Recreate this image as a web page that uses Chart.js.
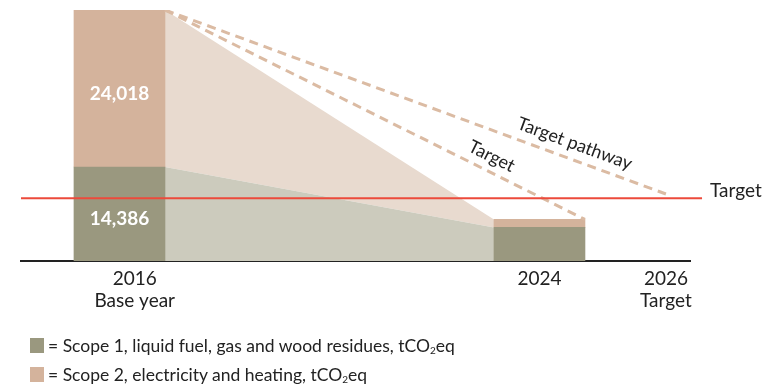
<!DOCTYPE html>
<html>
<head>
<meta charset="utf-8">
<script src="https://cdn.jsdelivr.net/npm/chart.js@4/dist/chart.umd.min.js"></script>
<style>
  html, body { margin: 0; padding: 0; background: #fff; }
  #wrap { position: relative; width: 769px; height: 387px; overflow: hidden; }
  #chart { position: absolute; left: 0; top: 0; }
  .legend {
    position: absolute; left: 30px; height: 20px;
    font: 17.5px Lato, sans-serif; color: #222; white-space: nowrap;
    display: flex; align-items: center;
  }
  .legend .sw { display: inline-block; width: 14px; height: 15px; margin-right: 4px; }
  .legend sub { font-size: 10px; position: relative; top: 5px; vertical-align: baseline; line-height: 0; }
</style>
</head>
<body>
<div id="wrap">
  <canvas id="chart" width="769" height="387"></canvas>
  <div class="legend" style="top:335px"><span class="sw" style="background:#9a987f"></span>= Scope 1, liquid fuel, gas and wood residues, tCO<sub>2</sub>eq</div>
  <div class="legend" style="top:364px"><span class="sw" style="background:#d4b39c"></span>= Scope 2, electricity and heating, tCO<sub>2</sub>eq</div>
</div>
<script>
// Emissions, tCO2eq
const years = ['2016', '2024', '2026'];
const yearNotes = ['Base year', '', 'Target'];
const scope1 = [14386, 5140];
const scope2 = [24018, 1220];
const targetLevel = 9600;
const pathwayEnd = 10250;

// Horizontal layout: the axis runs 0–100, bars and year labels sit at these spots
const barPos = [14.72, 77.5];
const tickPos = [17.0, 77.5, 96.4];
const PAD = { left: 21, right: 79, top: 10 };
const AXIS_PX = 769 - PAD.left - PAD.right;
const BAR_PX = 91;
const HALF_BAR = (BAR_PX / 2) * 100 / AXIS_PX;

const OLIVE = '#9a987f';
const TAN = '#d4b39c';
const OLIVE_LIGHT = '#cccbbd';
const TAN_LIGHT = '#e8dacf';
const DASH = '#dbbba3';
const RED = '#ec4a3b';
const INK = '#222222';
const FONT = 'Lato, sans-serif';

const totals = scope1.map((v, i) => v + scope2[i]);
const edgeR0 = barPos[0] + HALF_BAR;
const edgeL1 = barPos[1] - HALF_BAR;
const edgeR1 = barPos[1] + HALF_BAR;

const lineBase = { type: 'line', pointRadius: 0, pointHoverRadius: 0, tension: 0 };

const datasets = [
  { type: 'bar', label: 'Scope 1', stack: 'bars', order: 2, barThickness: BAR_PX,
    backgroundColor: OLIVE, data: barPos.map((x, i) => ({ x, y: scope1[i] })) },
  { type: 'bar', label: 'Scope 2', stack: 'bars', order: 2, barThickness: BAR_PX,
    backgroundColor: TAN, data: barPos.map((x, i) => ({ x, y: scope2[i] })) },
  // reduction wedge, scope 1 part
  { ...lineBase, stack: 'a1', order: 3, fill: 'origin', borderWidth: 0, backgroundColor: OLIVE_LIGHT,
    data: [{ x: edgeR0, y: scope1[0] }, { x: edgeL1, y: scope1[1] }] },
  // reduction wedge, scope 2 part (filled down to the scope 1 wedge)
  { ...lineBase, stack: 'a2', order: 3, fill: 2, borderWidth: 0, backgroundColor: TAN_LIGHT,
    data: [{ x: edgeR0, y: totals[0] }, { x: edgeL1, y: totals[1] }] },
  // target level
  { ...lineBase, stack: 'a3', order: 0, fill: false, clip: false, borderColor: RED, borderWidth: 2,
    data: [{ x: 0, y: targetLevel }, { x: 101.8, y: targetLevel }] },
  // dashed: base year to 2024
  { ...lineBase, stack: 'a4', order: 0, fill: false, borderColor: DASH, borderWidth: 3, borderDash: [9, 6],
    data: [{ x: edgeR0, y: totals[0] }, { x: edgeR1, y: totals[1] }] },
  // dashed: base year to 2026 target pathway
  { ...lineBase, stack: 'a5', order: 0, fill: false, borderColor: DASH, borderWidth: 3, borderDash: [9, 6],
    data: [{ x: edgeR0, y: totals[0] }, { x: tickPos[2], y: pathwayEnd }] }
];

const fmt = v => v.toLocaleString('en-US');

function textAlong(ctx, meta, text, t, offset) {
  const p0 = meta.data[0], p1 = meta.data[1];
  const ang = Math.atan2(p1.y - p0.y, p1.x - p0.x);
  const px = p0.x + (p1.x - p0.x) * t;
  const py = p0.y + (p1.y - p0.y) * t;
  ctx.save();
  ctx.translate(px, py);
  ctx.rotate(ang);
  ctx.fillText(text, 0, -offset);
  ctx.restore();
}

const annotations = {
  id: 'annotations',
  afterDatasetsDraw(chart) {
    const { ctx, scales: { x, y } } = chart;
    ctx.save();
    // values inside the base-year bar
    ctx.font = 'bold 19px ' + FONT;
    ctx.fillStyle = '#ffffff';
    ctx.textAlign = 'center';
    ctx.textBaseline = 'middle';
    [0, 1].forEach(ds => {
      const bar = chart.getDatasetMeta(ds).data[0];
      const val = ds === 0 ? scope1[0] : scope2[0];
      ctx.fillText(fmt(val), bar.x, (bar.y + bar.base) / 2 + 5);
    });
    // label at the end of the target line
    ctx.font = '19px ' + FONT;
    ctx.fillStyle = INK;
    ctx.textAlign = 'left';
    ctx.textBaseline = 'alphabetic';
    ctx.fillText('Target', x.right + 20, y.getPixelForValue(targetLevel) - 1);
    // labels along the dashed lines
    ctx.font = '18px ' + FONT;
    ctx.textAlign = 'center';
    textAlong(ctx, chart.getDatasetMeta(5), 'Target', 0.762, 9);
    textAlong(ctx, chart.getDatasetMeta(6), 'Target pathway', 0.807, 10);
    ctx.restore();
  }
};

new Chart(document.getElementById('chart'), {
  data: { datasets },
  options: {
    responsive: false,
    animation: false,
    layout: { autoPadding: false, padding: { left: PAD.left, right: PAD.right, top: PAD.top, bottom: 0 } },
    plugins: { legend: { display: false }, tooltip: { enabled: false } },
    scales: {
      x: {
        type: 'linear', min: 0, max: 100, stacked: true, offset: false,
        grid: { display: false, drawTicks: false, offset: false },
        border: { display: true, color: INK, width: 2 },
        afterFit(scale) {
          scale.height = 387 - 261;
          scale.paddingLeft = 0;
          scale.paddingRight = 0;
        },
        afterBuildTicks(scale) { scale.ticks = tickPos.map(v => ({ value: v })); },
        ticks: {
          padding: 7, color: INK, maxRotation: 0, autoSkip: false,
          font: { family: FONT, size: 19, lineHeight: 1.15 },
          callback: (v, i) => yearNotes[i] ? [years[i], yearNotes[i]] : years[i]
        }
      },
      y: {
        display: false, stacked: true, min: 0, max: totals[0]
      }
    }
  },
  plugins: [annotations]
});
</script>
</body>
</html>
